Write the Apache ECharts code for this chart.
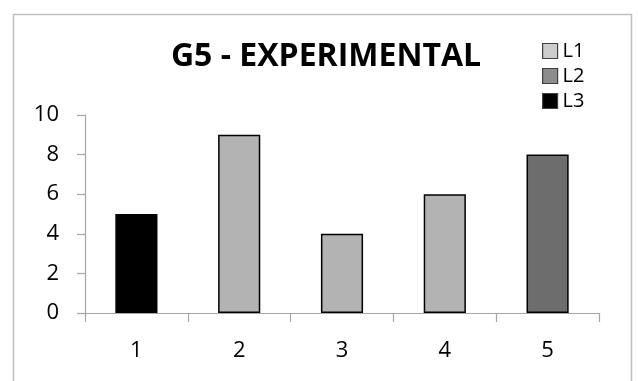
<!DOCTYPE html>
<html>
<head>
<meta charset="utf-8">
<script src="https://cdn.jsdelivr.net/npm/echarts@6/dist/echarts.min.js"></script>
<style>
  html, body { margin: 0; padding: 0; background: #fff; }
  #chart { width: 638px; height: 381px; }
</style>
</head>
<body>
<div id="chart"></div>
<script>
// Categories along the x axis and the value of each bar
const categories = ['1', '2', '3', '4', '5'];
const values = [5, 9, 4, 6, 8];
// Level that each bar belongs to
const levels = ['L3', 'L1', 'L1', 'L1', 'L2'];
const seriesNames = ['L1', 'L2', 'L3'];
const yTicks = { min: 0, max: 10, step: 2 };
const titleText = 'G5 - EXPERIMENTAL';

const barColors = { L1: '#b3b3b3', L2: '#6d6d6d', L3: '#000000' };
const legendColors = { L1: '#cccccc', L2: '#8c8c8c', L3: '#000000' };
const font = 'Open Sans, Noto Sans, sans-serif';

const chart = echarts.init(document.getElementById('chart'), null, { renderer: 'canvas' });

const series = seriesNames.map(name => ({
  name: name,
  type: 'bar',
  stack: 'all',
  barWidth: '41%',
  data: values.map((v, i) => (levels[i] === name ? v : '-')),
  itemStyle: { color: barColors[name], borderColor: '#000', borderWidth: 1.5 },
  emphasis: { disabled: true }
}));

chart.setOption({
  animation: false,
  backgroundColor: '#fff',
  title: {
    text: titleText,
    left: 321,
    top: 37,
    textAlign: 'center',
    textStyle: { fontFamily: font, fontSize: 32, fontWeight: 'bold', color: '#000', lineHeight: 30 }
  },
  legend: {
    orient: 'vertical',
    left: 537,
    top: 36,
    itemWidth: 15,
    itemHeight: 15,
    itemGap: 5,
    selectedMode: false,
    textStyle: { fontFamily: font, fontSize: 20, color: '#000', lineHeight: 15 },
    data: seriesNames.map(n => ({
      name: n,
      icon: 'rect',
      itemStyle: { color: legendColors[n], borderColor: '#404040', borderWidth: 1.2 }
    }))
  },
  graphic: [{
    type: 'rect',
    silent: true,
    shape: { x: 13.5, y: 14.5, width: 618, height: 420 },
    style: { fill: 'none', stroke: '#bfbfbf', lineWidth: 1.5 }
  }],
  grid: { left: 85, right: 39, top: 115, bottom: 68, containLabel: false },
  xAxis: {
    type: 'category',
    data: categories,
    axisLine: { show: true, lineStyle: { color: '#a6a6a6', width: 1.2 } },
    axisTick: { show: true, length: 9, alignWithLabel: false, lineStyle: { color: '#a6a6a6', width: 1.2 } },
    axisLabel: { fontFamily: font, fontSize: 22, color: '#000', margin: 27 },
    splitLine: { show: false }
  },
  yAxis: {
    type: 'value',
    min: yTicks.min,
    max: yTicks.max,
    interval: yTicks.step,
    axisLine: { show: true, lineStyle: { color: '#a6a6a6', width: 1.2 } },
    axisTick: { show: true, length: 8, lineStyle: { color: '#a6a6a6', width: 1.2 } },
    axisLabel: { fontFamily: font, fontSize: 22, color: '#000', margin: 26 },
    splitLine: { show: false }
  },
  series: series
});
</script>
</body>
</html>
